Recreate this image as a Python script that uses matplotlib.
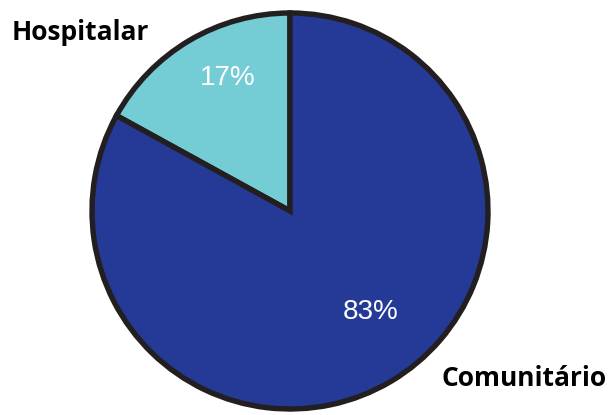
import matplotlib
matplotlib.use("Agg")
import matplotlib.pyplot as plt

categories = ["Hospitalar", "Comunitário"]
values = [17, 83]
pct_labels = ["17%", "83%"]
colors = ["#74CCD4", "#253A96"]

W, H = 610, 415
fig = plt.figure(figsize=(W / 100, H / 100), dpi=100)
ax = fig.add_axes([0, 0, 1, 1])

cx, cy, r = 290, H - 211, 198
wedges, _ = ax.pie(values, colors=colors, startangle=90, counterclock=True,
                   center=(cx, cy), radius=r, frame=True,
                   wedgeprops=dict(edgecolor="#231F20", linewidth=3.9, joinstyle="miter"))
ax.set_xlim(0, W)
ax.set_ylim(0, H)
ax.set_aspect("equal")
ax.axis("off")

# percentage labels
ax.text(228, H - 78, pct_labels[0], color="white", fontsize=20, family="Liberation Sans",
        ha="center", va="center")
ax.text(371, H - 312, pct_labels[1], color="white", fontsize=20, family="Liberation Sans",
        ha="center", va="center")

# category labels
ax.text(12, H - 32, categories[0], color="black", fontsize=19, family="Open Sans",
        fontweight="bold", ha="left", va="center")
ax.text(607, H - 378, categories[1], color="black", fontsize=19, family="Open Sans",
        fontweight="bold", ha="right", va="center")

fig.savefig("out.png", dpi=100)
